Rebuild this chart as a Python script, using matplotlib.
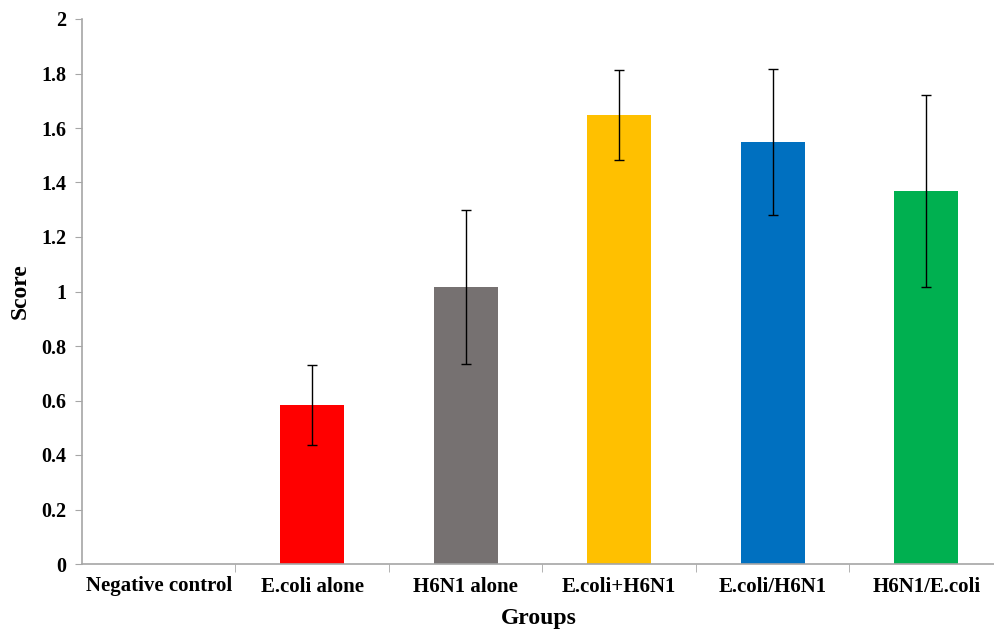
import numpy as np
import matplotlib.pyplot as plt

# ---------------- DATA ---------------- #
groups = ["Negative control", "E.coli alone", "H6N1 alone",
          "E.coli+H6N1", "E.coli/H6N1", "H6N1/E.coli"]
scores = [0.0, 0.583, 1.017, 1.648, 1.549, 1.369]
errors = [0.0, 0.147, 0.282, 0.166, 0.268, 0.352]
colors = ["#FFFFFF", "#FF0000", "#767171", "#FFC000", "#0070C0", "#00B050"]

plt.rcParams["font.family"] = ["Liberation Serif", "DejaVu Serif"]
plt.rcParams["font.weight"] = "bold"

fig = plt.figure(figsize=(9.95, 6.32), dpi=100)
ax = fig.add_axes([82 / 995, 68 / 632, 913 / 995, 545 / 632])

x = np.arange(len(groups))
ax.bar(x, scores, width=0.417, color=colors, zorder=2)
ax.errorbar(x[1:], scores[1:], yerr=errors[1:], fmt="none", ecolor="black",
            elinewidth=1.0, capsize=3.6, capthick=1.0, zorder=3)

ax.set_xlim(-0.5, 5.448)
ax.set_ylim(0, 2)
ax.set_yticks(np.arange(0, 2.01, 0.2))
ax.set_yticklabels(["0", "0.2", "0.4", "0.6", "0.8", "1", "1.2", "1.4",
                    "1.6", "1.8", "2"])

# category labels at centres, tick marks at boundaries
ax.set_xticks(x)
ax.set_xticklabels(groups)
ax.tick_params(axis="x", length=0, pad=9, labelsize=15)
ax.set_xticks(np.arange(0.5, 5.5, 1), minor=True)
ax.tick_params(axis="x", which="minor", length=6, color="#A6A6A6", direction="out")
ax.tick_params(axis="y", length=5, color="#A6A6A6", direction="out", pad=6,
               labelsize=14.5)

for side in ["top", "right"]:
    ax.spines[side].set_visible(False)
for side in ["left", "bottom"]:
    ax.spines[side].set_color("#A6A6A6")
    ax.spines[side].set_linewidth(1.2)

ax.set_xlabel("Groups", fontsize=17, fontweight="bold", labelpad=8)
ax.set_ylabel("Score", fontsize=17, fontweight="bold", labelpad=8)

fig.savefig("out.png", dpi=100)
